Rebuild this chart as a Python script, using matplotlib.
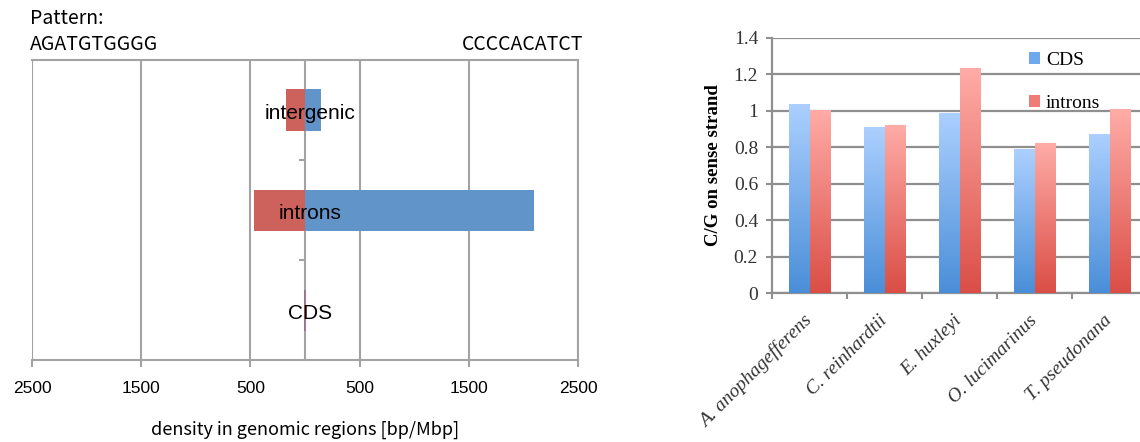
import numpy as np
import matplotlib
matplotlib.use("Agg")
import matplotlib.pyplot as plt
from matplotlib.colors import LinearSegmentedColormap
from matplotlib.patches import Patch
from matplotlib.transforms import ScaledTranslation

# ---------------- data ----------------
regions = ["CDS", "introns", "intergenic"]
pattern_fwd = [-5, -470, -178]      # AGATGTGGGG (plotted to the left)
pattern_rev = [12, 2100, 142]       # CCCCACATCT (plotted to the right)
xticks_left = [-2500, -1500, -500, 500, 1500, 2500]
xticklabels_left = ["2500", "1500", "500", "500", "1500", "2500"]

species = ["A. anophagefferens", "C. reinhardtii", "E. huxleyi",
           "O. lucimarinus", "T. pseudonana"]
cds_vals = [1.04, 0.91, 0.99, 0.79, 0.875]
intron_vals = [1.005, 0.925, 1.235, 0.825, 1.01]
yticks_right = [0, 0.2, 0.4, 0.6, 0.8, 1, 1.2, 1.4]
yticklabels_right = ["0", "0.2", "0.4", "0.6", "0.8", "1", "1.2", "1.4"]

W, H = 1140, 442
fig = plt.figure(figsize=(W / 100, H / 100), dpi=100)

def px(x0, y0, x1, y1):
    return [x0 / W, 1 - y1 / H, (x1 - x0) / W, (y1 - y0) / H]

# ---------------- left chart ----------------
grid_c = "#a3a3a3"
axL = fig.add_axes(px(32, 60, 578, 360))
ypos = np.arange(len(regions))
axL.barh(ypos, pattern_fwd, height=0.41, color="#cd625d", zorder=3)
axL.barh(ypos, pattern_rev, height=0.41, color="#6194c8", zorder=3)
axL.set_xlim(-2500, 2500)
axL.set_ylim(-0.5, len(regions) - 0.5)
axL.set_xticks(xticks_left)
axL.set_xticklabels(xticklabels_left, family="Liberation Sans", fontsize=12.5)
axL.tick_params(axis="x", direction="out", length=5, width=1.5, color=grid_c, pad=10)
axL.xaxis.grid(True, color=grid_c, linewidth=1.5, zorder=0)
axL.set_axisbelow(True)
axL.spines["left"].set_position(("data", 0))
for s in ["left", "bottom", "top", "right"]:
    axL.spines[s].set_color(grid_c)
    axL.spines[s].set_linewidth(1.5)
axL.set_yticks([])
axL.set_yticks([0.5, 1.5], minor=True)
axL.tick_params(axis="y", which="minor", direction="out", length=4, width=1.5, color=grid_c)
axL.yaxis.set_minor_formatter(plt.NullFormatter())
for i, name in enumerate(regions):
    axL.text(45, i - 0.035, name, ha="center", va="center",
             family="Liberation Sans", fontsize=15, zorder=5)
axL.set_xlabel("density in genomic regions [bp/Mbp]", family="Noto Sans CJK JP",
               fontsize=13, labelpad=18)
fig.text(30 / W, 1 - 18 / H, "Pattern:", family="Noto Sans CJK JP", fontsize=14,
         ha="left", va="center")
fig.text(30 / W, 1 - 45 / H, "AGATGTGGGG", family="Noto Sans CJK JP", fontsize=14,
         ha="left", va="center")
fig.text(583 / W, 1 - 45 / H, "CCCCACATCT", family="Noto Sans CJK JP", fontsize=14,
         ha="right", va="center")

# ---------------- right chart ----------------
axR = fig.add_axes(px(772, 38, 1147, 293))
x = np.arange(len(species))
bw = 0.28
blue_cmap = LinearSegmentedColormap.from_list("b", ["#4a8ed8", "#acd0ff"])
red_cmap = LinearSegmentedColormap.from_list("r", ["#da4e46", "#ffaca7"])
grad = np.linspace(0, 1, 256).reshape(-1, 1)
for vals, off, cmap in [(cds_vals, -bw / 2, blue_cmap), (intron_vals, bw / 2, red_cmap)]:
    bars = axR.bar(x + off, vals, width=bw, facecolor="none", edgecolor="none", zorder=3)
    for b in bars:
        x0, y0 = b.get_x(), b.get_y()
        im = axR.imshow(grad, extent=[x0, x0 + b.get_width(), y0, y0 + b.get_height()],
                        origin="lower", aspect="auto", cmap=cmap, zorder=3)
        im.set_clip_path(b)
axR.set_xlim(-0.5, len(species) - 0.5)
axR.set_ylim(0, 1.4)
gc2 = "#8f8f8f"
axR.set_yticks(yticks_right)
axR.set_yticklabels(yticklabels_right, family="Liberation Serif", fontsize=14, color="#333333")
axR.yaxis.grid(True, color=gc2, linewidth=1.6, zorder=0)
axR.set_axisbelow(True)
axR.tick_params(axis="y", direction="out", length=4, width=1.5, color=gc2, pad=6)
axR.set_xticks(x)
axR.set_xticklabels(species, family="Liberation Serif", style="italic", fontsize=14,
                    rotation=45, ha="right", va="top", rotation_mode="anchor", color="#333333")
axR.tick_params(axis="x", which="major", length=0, pad=15)
shift = ScaledTranslation(-6 / 100, 2 / 100, fig.dpi_scale_trans)
for lab in axR.get_xticklabels():
    lab.set_transform(lab.get_transform() + shift)
axR.set_xticks(np.arange(-0.5, len(species)), minor=True)
axR.tick_params(axis="x", which="minor", direction="out", length=4, width=1.5, color=gc2)
for s in ["top", "right"]:
    axR.spines[s].set_visible(False)
for s in ["left", "bottom"]:
    axR.spines[s].set_color(gc2)
    axR.spines[s].set_linewidth(1.6)
axR.set_ylabel("C/G on sense strand", family="Liberation Serif", fontweight="bold",
               fontsize=13.5, labelpad=8)
handles = [Patch(facecolor="#6fa8ec", edgecolor="none"),
           Patch(facecolor="#ee7d77", edgecolor="none")]
leg = axR.legend(handles, ["CDS", "introns"], loc="upper left",
                 bbox_to_anchor=((1015 - 772) / 375, 1.0), frameon=False,
                 prop={"family": "Liberation Serif", "size": 14},
                 handlelength=0.6, handleheight=0.6, handletextpad=0.3,
                 labelspacing=1.35, borderaxespad=0.3)

fig.savefig("out.png", dpi=100)
